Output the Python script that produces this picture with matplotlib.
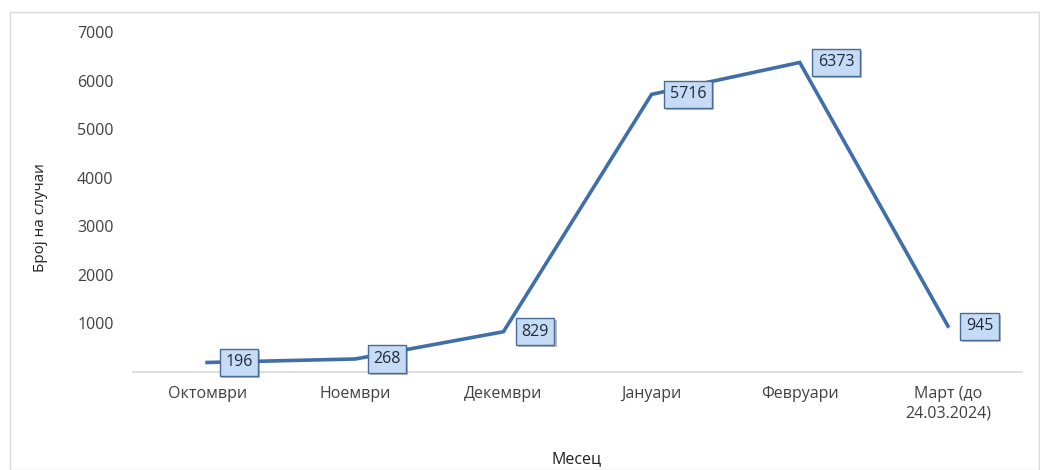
import matplotlib
matplotlib.use("Agg")
import matplotlib.pyplot as plt
import matplotlib.patheffects as pe
from matplotlib.patches import Rectangle

months = ["Октомври", "Ноември", "Декември", "Јануари", "Февруари", "Март (до\n24.03.2024)"]
cases = [196, 268, 829, 5716, 6373, 945]
yticks = [1000, 2000, 3000, 4000, 5000, 6000, 7000]

plt.rcParams['font.family'] = ['Open Sans', 'DejaVu Sans']

fig = plt.figure(figsize=(10.4, 4.7), dpi=100)
fig.patches.append(Rectangle((10/1040, 0), 1 - 10/1040 - 0.001, 1 - 12/470,
                             transform=fig.transFigure, fill=False,
                             edgecolor='#d9d9d9', linewidth=1))
ax = fig.add_axes([133/1040, 1 - 372/470, (1022 - 133)/1040, (372 - 32)/470])

x = list(range(len(months)))
ax.plot(x, cases, color='#3f6ea8', linewidth=2.6, solid_joinstyle='miter')

for xi, v in zip(x, cases):
    t = ax.annotate(str(v), (xi, v), xytext=(13, 0), textcoords='offset points',
                    ha='left', va='center', fontsize=11.5, color='#1f2a3a',
                    bbox=dict(boxstyle='square,pad=0.35', facecolor='#c6dbf5',
                              edgecolor='#4a6a98', linewidth=1.0))
    t.get_bbox_patch().set_path_effects([pe.SimplePatchShadow(offset=(1.5, -1.5), alpha=0.35),
                                         pe.Normal()])

ax.set_xlim(-0.5, len(months) - 0.5)
ax.set_ylim(0, 7000)
ax.set_yticks(yticks)
ax.set_yticklabels([str(t) for t in yticks], fontsize=11.5, color='#404040')
ax.set_xticks(x)
ax.set_xticklabels(months, fontsize=11.5, color='#404040', linespacing=1.3)
ax.tick_params(axis='both', length=0)
ax.tick_params(axis='y', pad=14)
ax.tick_params(axis='x', pad=10)
for s in ['top', 'right', 'left']:
    ax.spines[s].set_visible(False)
ax.spines['bottom'].set_color('#d9d9d9')
ax.spines['bottom'].set_linewidth(1.2)

fig.text(40/1040, 1 - 218/470, "Број на случаи", rotation=90, ha='center', va='center',
         fontsize=11, color='#202020')
fig.text(577/1040, 1 - 459/470, "Месец", ha='center', va='center',
         fontsize=11.5, color='#202020')

fig.savefig("out.png", dpi=100)
